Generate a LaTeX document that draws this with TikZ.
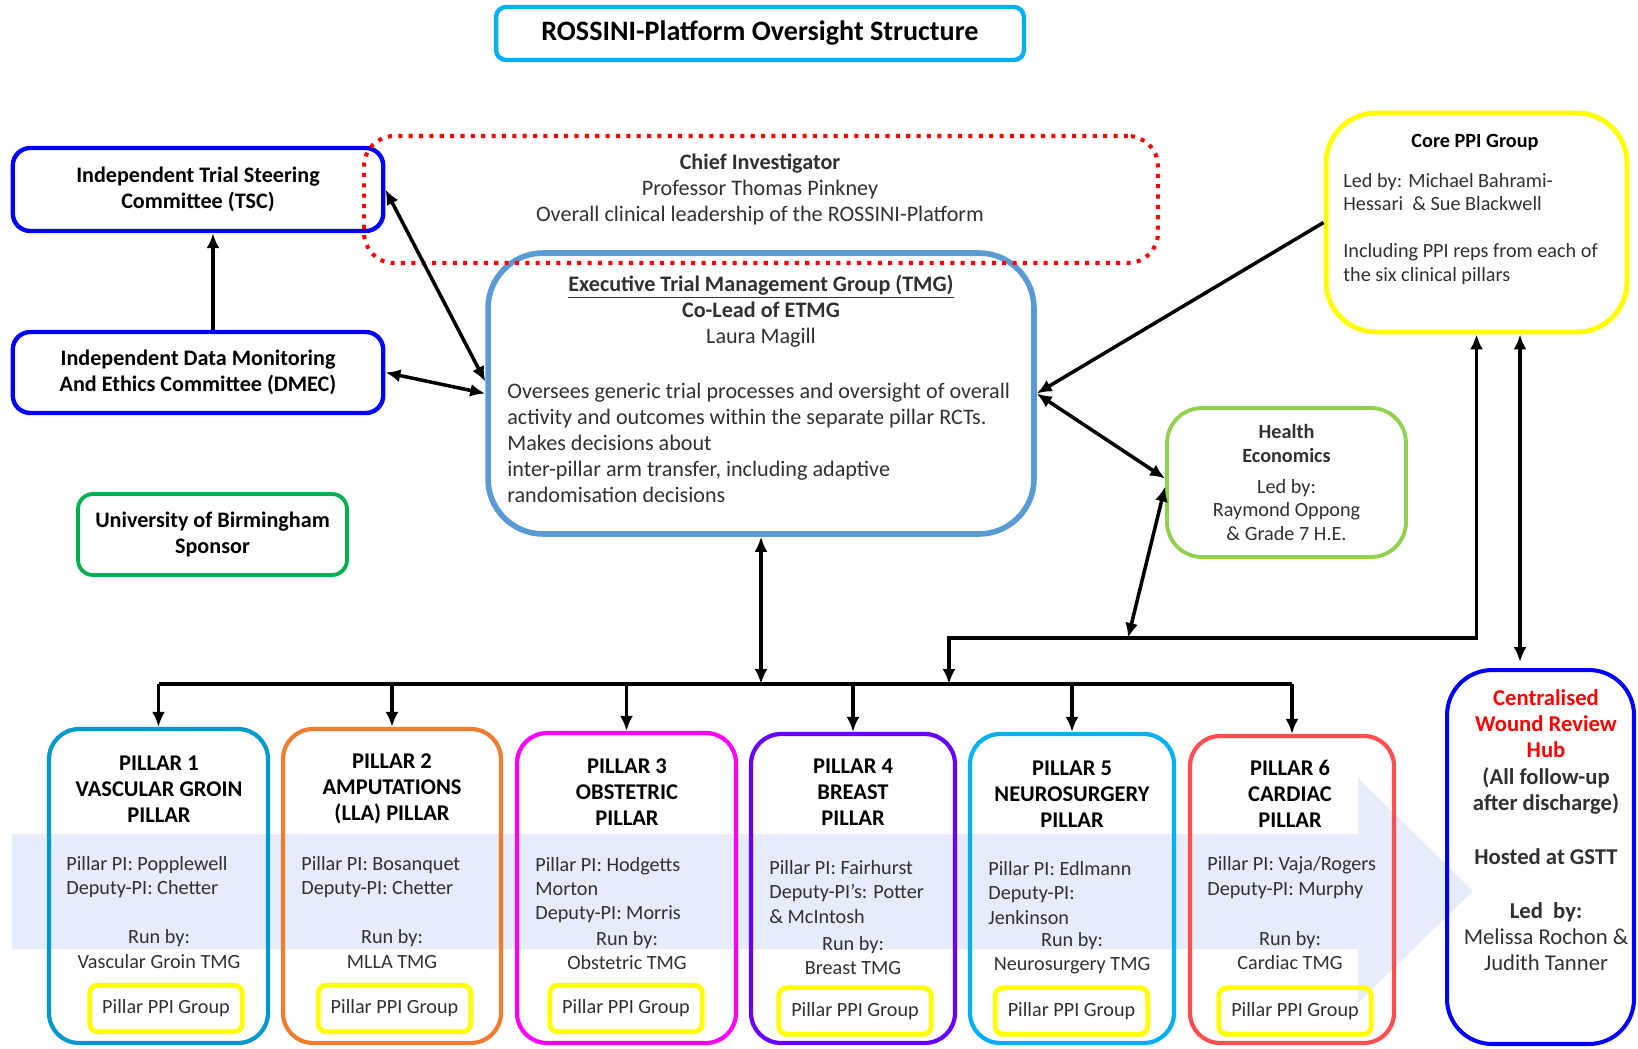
\documentclass[tikz,border=0pt]{standalone}
\usepackage{fontspec}
\setmainfont{Carlito}
\usetikzlibrary{arrows.meta}

\definecolor{ink}{HTML}{303030}
\definecolor{band}{HTML}{E7ECFA}
\definecolor{tmgblue}{HTML}{5B9BD5}
\definecolor{skyblue}{HTML}{00B0F0}
\definecolor{pillarA}{HTML}{0099CC}
\definecolor{pillarB}{HTML}{ED7D31}
\definecolor{pillarC}{HTML}{FF00FF}
\definecolor{pillarD}{HTML}{6600FF}
\definecolor{pillarE}{HTML}{00B0F0}
\definecolor{pillarF}{HTML}{FF5050}
\definecolor{ukgreen}{HTML}{00B050}
\definecolor{hegreen}{HTML}{92D050}
\definecolor{ppiyellow}{HTML}{FFFF00}

\newcommand{\rsBody}{\fontsize{12.6}{14.8}\selectfont}
\newcommand{\rsSmall}{\fontsize{11.5}{13.4}\selectfont}
\newcommand{\rsPill}{\fontsize{11.5}{13.8}\selectfont}
\newcommand{\rsHead}{\fontsize{12.8}{14.8}\selectfont\bfseries}
\newcommand{\rsHub}{\fontsize{12.9}{15}\selectfont}
\newcommand{\rsTitle}{\fontsize{16}{19}\selectfont\bfseries}

\begin{document}
\begin{tikzpicture}[x=0.02cm, y=-0.02cm, >={Latex[length=3mm,width=2.6mm]},
    box/.style={draw, line width=2.5pt, inner sep=0, align=center, text=black},
    txt/.style={inner sep=0, align=center, text=ink, font=\rsBody},
    pillar/.style={draw=#1, line width=2.4pt, rounded corners=0.6cm},
    ptitle/.style={inner sep=0, align=center, text=black, font=\rsHead},
    plead/.style={inner sep=0, align=left, anchor=west, text=ink, font=\rsPill},
    prun/.style={inner sep=0, align=center, text=ink, font=\rsPill},
    ppibox/.style={draw=ppiyellow, line width=2.8pt, rounded corners=0.16cm, minimum width=3.05cm, minimum height=0.93cm, text=ink, font=\rsPill},
    arr/.style={line width=2pt, ->},
    dbl/.style={line width=2pt, <->}]
\useasboundingbox (0,0) rectangle (1638,1048);

% light arrow behind the pillars
\fill[band] (12,834) -- (1358,834) -- (1358,778) -- (1473,891) -- (1358,1003) -- (1358,949) -- (12,949) -- cycle;

% top part
\node[box, draw=skyblue, rounded corners=0.2cm, minimum width=10.56cm, minimum height=1.06cm, font=\rsTitle] (title) at (760,33.5) {ROSSINI-Platform Oversight Structure};
\node[box, draw=blue, rounded corners=0.35cm, minimum width=7.41cm, minimum height=1.66cm, font=\rsBody\bfseries] (tsc) at (198,189.5) {Independent Trial Steering\\Committee (TSC)};
\node[box, draw=blue, rounded corners=0.35cm, minimum width=7.41cm, minimum height=1.62cm, font=\rsBody\bfseries] (dmec) at (198,372.5) {Independent Data Monitoring\\And Ethics Committee (DMEC)};
\node[box, draw=ukgreen, line width=2.2pt, rounded corners=0.3cm, minimum width=5.38cm, minimum height=1.62cm, font=\rsBody\bfseries] (sponsor) at (212.5,534.5) {University of Birmingham\\Sponsor};

\node[box, draw=tmgblue, line width=3.2pt, rounded corners=1.1cm, minimum width=10.92cm, minimum height=5.62cm] (tmg) at (761,393.5) {};
\node[txt] (tmgHead) at (761,311) {\textbf{\underline{Executive Trial Management Group (TMG)}}\\\textbf{Co-Lead of ETMG}\\Laura Magill};
\node[txt, align=left, anchor=west] (tmgText) at (507,443) {Oversees generic trial processes and oversight of overall\\activity and outcomes within the separate pillar RCTs.\\Makes decisions about\\inter-pillar arm transfer, including adaptive\\randomisation decisions};

\node[draw=red, line width=2.3pt, dash pattern=on 2.3pt off 3.6pt, rounded corners=0.6cm, minimum width=15.88cm, minimum height=2.54cm] (ci) at (761,199.5) {};
\node[txt] (ciText) at (760,189.5) {\textbf{Chief Investigator}\\Professor Thomas Pinkney\\Overall clinical leadership of the ROSSINI-Platform};

\node[box, draw=ppiyellow, line width=2.8pt, rounded corners=1cm, minimum width=6.02cm, minimum height=4.38cm] (core) at (1476.5,222.5) {};
\node[txt, font=\rsSmall\bfseries, text=black] (coreHead) at (1475,142) {Core PPI Group};
\node[txt, font=\rsSmall, align=left, anchor=west] (coreText) at (1343,229) {Led by: Michael Bahrami-\\Hessari \ \& Sue Blackwell\\[13.4pt]Including PPI reps from each of\\the six clinical pillars};

\node[box, draw=hegreen, line width=2.2pt, rounded corners=0.7cm, minimum width=4.78cm, minimum height=2.98cm, font=\rsSmall, text=ink] (heco) at (1286.5,482.5) {\textbf{Health}\\\textbf{Economics}\\[4pt]Led by:\\Raymond Oppong\\\& Grade 7 H.E.};

% pillars
\node[pillar=pillarA, minimum width=4.38cm, minimum height=6.28cm] (p1) at (158.5,886) {};
\node[ptitle] (p1Title) at (159,789) {PILLAR 1\\VASCULAR GROIN\\PILLAR};
\node[plead] (p1Lead) at (66,877) {Pillar PI: Popplewell\\Deputy-PI: Chetter};
\node[prun] (p1Run) at (159,949) {Run by:\\Vascular Groin TMG};
\node[ppibox] (p1Ppi) at (166,1008.5) {Pillar PPI Group};

\node[pillar=pillarB, minimum width=4.36cm, minimum height=6.28cm] (p2) at (392,886) {};
\node[ptitle] (p2Title) at (392,789) {PILLAR 2\\AMPUTATIONS\\(LLA) PILLAR};
\node[plead] (p2Lead) at (301,877) {Pillar PI: Bosanquet\\Deputy-PI: Chetter};
\node[prun] (p2Run) at (392,949) {Run by:\\MLLA TMG};
\node[ppibox] (p2Ppi) at (394.5,1008.5) {Pillar PPI Group};

\node[pillar=pillarC, minimum width=4.38cm, minimum height=6.2cm] (p3) at (626.5,888) {};
\node[ptitle] (p3Title) at (627,792) {PILLAR 3\\OBSTETRIC\\PILLAR};
\node[plead] (p3Lead) at (535,890) {Pillar PI: Hodgetts\\Morton\\Deputy-PI: Morris};
\node[prun] (p3Run) at (627,950.5) {Run by:\\Obstetric TMG};
\node[ppibox] (p3Ppi) at (626,1008.5) {Pillar PPI Group};

\node[pillar=pillarD, minimum width=4.08cm, minimum height=6.18cm] (p4) at (853,888.5) {};
\node[ptitle] (p4Title) at (853,792) {PILLAR 4\\BREAST\\PILLAR};
\node[plead] (p4Lead) at (769,892) {Pillar PI: Fairhurst\\Deputy-PI’s: Potter\\\& McIntosh};
\node[prun] (p4Run) at (853,955.5) {Run by:\\Breast TMG};
\node[ppibox] (p4Ppi) at (855,1011) {Pillar PPI Group};

\node[pillar=pillarE, minimum width=4.08cm, minimum height=6.18cm] (p5) at (1072,888.5) {};
\node[ptitle] (p5Title) at (1072,794) {PILLAR 5\\NEUROSURGERY\\PILLAR};
\node[plead] (p5Lead) at (988,893) {Pillar PI: Edlmann\\Deputy-PI:\\Jenkinson};
\node[prun] (p5Run) at (1072,953) {Run by:\\Neurosurgery TMG};
\node[ppibox] (p5Ppi) at (1071.5,1011) {Pillar PPI Group};

\node[pillar=pillarF, minimum width=4.08cm, minimum height=6.14cm] (p6) at (1292,889.5) {};
\node[ptitle] (p6Title) at (1290,794) {PILLAR 6\\CARDIAC\\PILLAR};
\node[plead] (p6Lead) at (1207,877.5) {Pillar PI: Vaja/Rogers\\Deputy-PI: Murphy};
\node[prun] (p6Run) at (1290,950.5) {Run by:\\Cardiac TMG};
\node[ppibox] (p6Ppi) at (1295,1011) {Pillar PPI Group};

\node[box, draw=blue, line width=2.3pt, rounded corners=0.9cm, minimum width=3.74cm, minimum height=7.48cm] (hub) at (1540.5,857) {};
\node[txt, font=\rsHub] (hubText) at (1546,830) {\textcolor{red}{\textbf{Centralised}}\\\textcolor{red}{\textbf{Wound Review}}\\\textcolor{red}{\textbf{Hub}}\\\textbf{(All follow-up}\\\textbf{after discharge)}\\[15.6pt]\textbf{Hosted at GSTT}\\[15.6pt]\textbf{Led \ by:}\\Melissa Rochon \&\\Judith Tanner};

% connectors
\coordinate (bus) at (0,684);
\coordinate (ppiBend) at (949,638);
\coordinate (hecoFoot) at (1128,638);
\coordinate (hubLink) at (1520,0);

\draw[arr] ([xshift=0.3cm]dmec.north) -- ([xshift=0.3cm]tsc.south);
\draw[dbl] (tsc.east) -- ([yshift=0.24cm]tmg.west);
\draw[dbl] (dmec.east) -- (tmg.west);
\draw[arr] (core.west) -- (tmg.east);
\draw[dbl] (tmg.east) -- ([yshift=0.08cm]heco.west);
\draw[dbl] ([yshift=-0.08cm]heco.west) -- (hecoFoot);
\draw[dbl] (tmg.south) -- (tmg.south |- bus);
\draw[dbl] (core.south) |- (ppiBend) -- (ppiBend |- bus);
\draw[dbl] (core.south -| hubLink) -- ([yshift=0.12cm]hub.north -| hubLink);
\draw[line width=2pt] (p1.north |- bus) -- (p6.north |- bus);
\foreach \p in {p1,p2,p3,p4,p5,p6}
  \draw[arr] (\p.north |- bus) -- (\p.north);
\end{tikzpicture}
\end{document}
